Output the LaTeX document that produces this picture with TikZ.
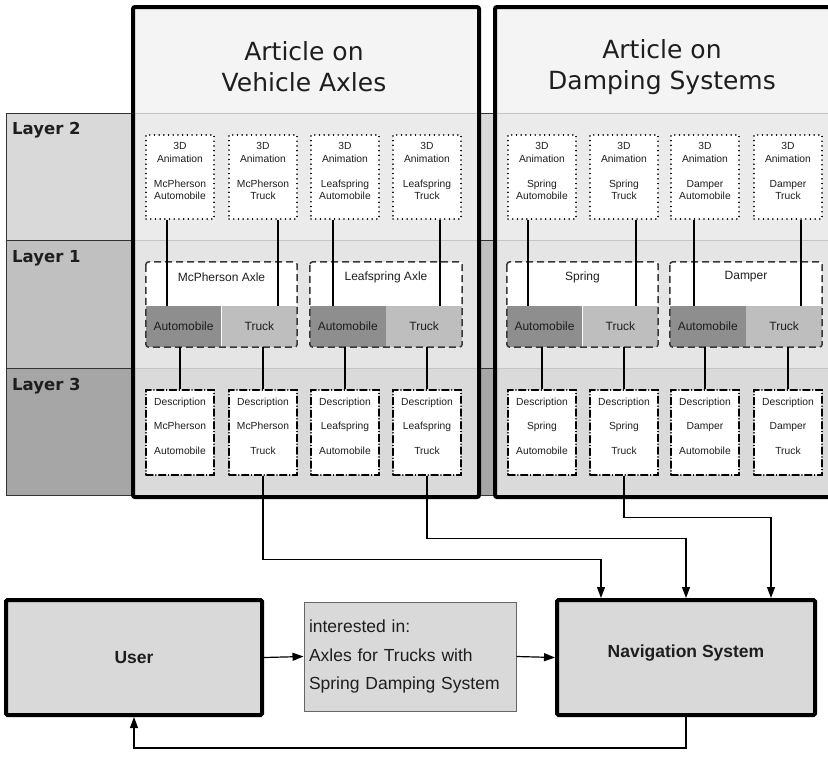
\documentclass[tikz,border=0pt]{standalone}
\usepackage{fontspec}
\setmainfont{Liberation Sans}
\newfontfamily\dvs{DejaVu Sans}
\usetikzlibrary{arrows.meta}
\definecolor{bandA}{HTML}{D9D9D9}
\definecolor{bandB}{HTML}{C0C0C0}
\definecolor{bandC}{HTML}{A6A6A6}
\definecolor{inA}{HTML}{EBEBEB}
\definecolor{inB}{HTML}{E5E5E5}
\definecolor{inC}{HTML}{DADADA}
\definecolor{hdr}{HTML}{F4F4F4}
\definecolor{sepc}{HTML}{C4C4C4}
\definecolor{autoc}{HTML}{8E8E8E}
\definecolor{truckc}{HTML}{BEBEBE}
\definecolor{boxc}{HTML}{D9D9D9}
\definecolor{txt}{HTML}{1E1E1E}
\begin{document}
\begin{tikzpicture}[x=1pt,y=-1pt,
  bandline/.style={draw=black!80,line width=0.9pt},
  sepline/.style={draw=sepc,line width=0.9pt},
  laylab/.style={anchor=base west,inner sep=0pt,font=\dvs\bfseries\fontsize{16.5}{20}\selectfont,text=txt},
  titletxt/.style={align=center,inner sep=0pt,font=\dvs\fontsize{25}{31}\selectfont,text=txt},
  artframe/.style={draw=black,line width=4pt,rounded corners=2pt},
  anim/.style={draw=black,fill=white,line width=1.5pt,dash pattern=on 0.1pt off 4.6pt,line cap=round,minimum width=68pt,minimum height=84pt,inner sep=0pt},
  desc/.style={draw=black,fill=white,line width=1.5pt,dash pattern=on 7pt off 2.8pt on 0.1pt off 2.8pt,line cap=round,minimum width=68pt,minimum height=85pt,inner sep=0pt},
  smalltxt/.style={align=center,inner sep=0pt,text=txt,font=\fontsize{10.3}{12.5}\selectfont},
  desctxt/.style={align=center,inner sep=0pt,text=txt,font=\fontsize{10.3}{24.5}\selectfont},
  grp/.style={fill=white,minimum height=85pt,inner sep=0pt},
  grpborder/.style={draw=black!78,line width=1.5pt,dash pattern=on 7pt off 4pt,rounded corners=3pt},
  cellA/.style={fill=autoc,minimum width=75.5pt,minimum height=41pt,inner sep=0pt,text=txt,font=\fontsize{12}{14}\selectfont},
  cellB/.style={fill=truckc,minimum width=75.5pt,minimum height=41pt,inner sep=0pt,text=txt,font=\fontsize{12}{14}\selectfont},
  midtxt/.style={inner sep=0pt,text=txt,font=\fontsize{12}{14}\selectfont},
  conn/.style={draw=black,line width=1.3pt},
  bigbox/.style={draw=black,fill=boxc,line width=4pt,rounded corners=1.5pt,inner sep=0pt,text=txt,font=\bfseries\fontsize{17.5}{21}\selectfont},
  intbox/.style={draw=black!60,fill=boxc,line width=1pt,inner sep=5pt,text=txt,align=left,font=\fontsize{17.5}{28.5}\selectfont},
  arr/.style={draw=black,line width=1.2pt,-{Triangle[length=11pt,width=8pt]}}
]
\useasboundingbox (0,0) rectangle (828,772);
\clip (0,0) rectangle (828,772);
\fill[white] (0,0) rectangle (828,772);

% full-width layer bands
\draw[bandline,fill=bandA] (6,113) rectangle (850,240);
\draw[bandline,fill=bandB] (6,240) rectangle (850,368);
\draw[bandline,fill=bandC] (6,368) rectangle (850,495);
\node[laylab] (lab2) at (12,134) {Layer 2};
\node[laylab] (lab1) at (12,262) {Layer 1};
\node[laylab] (lab3) at (12,390) {Layer 3};

% article panels
\foreach \L/\R in {131/477, 493/833} {
  \fill[hdr] (\L,5) rectangle (\R,113);
  \fill[inA] (\L,113) rectangle (\R,240);
  \fill[inB] (\L,240) rectangle (\R,368);
  \fill[inC] (\L,368) rectangle (\R,495);
  \draw[sepline] (\L,113) -- (\R,113);
  \draw[sepline] (\L,240) -- (\R,240);
  \draw[sepline] (\L,368) -- (\R,368);
}
\node[artframe,minimum width=346pt,minimum height=490pt,anchor=north west] (art1) at (131,5) {};
\node[artframe,minimum width=340pt,minimum height=490pt,anchor=north west] (art2) at (493,5) {};
\node[titletxt] (title1) at (304,67) {Article on\\Vehicle Axles};
\node[titletxt] (title2) at (662,67) {Article on\\Damping Systems};

% layer 2 and layer 3 boxes
\foreach \n/\x/\p/\q in {1/180/McPherson/Automobile, 2/263/McPherson/Truck, 3/345/Leafspring/Automobile, 4/427/Leafspring/Truck, 5/542/Spring/Automobile, 6/624/Spring/Truck, 7/705/Damper/Automobile, 8/788/Damper/Truck} {
  \node[anim] (an\n) at (\x,177) {};
  \node[smalltxt] (ant\n) at (\x,171) {3D\\Animation\\[12.5pt]\p\\\q};
  \node[desc] (de\n) at (\x,432.5) {};
  \node[desctxt] (det\n) at (\x,426) {Description\\\p\\\q};
}

% layer 1 groups
\foreach \n/\x/\w/\t in {1/221.5/151/McPherson Axle, 2/386/152/Leafspring Axle, 3/582.5/151/Spring, 4/746/152/Damper} {
  \node[grp,minimum width=\w pt] (g\n) at (\x,304.5) {};
  \node[cellA,minimum width=\w pt/2,anchor=north east] (ca\n) at (\x,306) {Automobile};
  \node[cellB,minimum width=\w pt/2,anchor=north west] (ct\n) at (\x,306) {Truck};
  \draw[grpborder] (g\n.north west) rectangle (g\n.south east);
  \node[midtxt] (gt\n) at (\x,277) {\t};
}

% layer 2 -> layer 1
\draw[conn] ([xshift=-13pt]an1.south) -- ([xshift=-13pt]an1.south |- ca1.north);
\draw[conn] ([xshift=15pt]an2.south) -- ([xshift=15pt]an2.south |- ct1.north);
\draw[conn] ([xshift=-12pt]an3.south) -- ([xshift=-12pt]an3.south |- ca2.north);
\draw[conn] ([xshift=13pt]an4.south) -- ([xshift=13pt]an4.south |- ct2.north);
\draw[conn] ([xshift=-14pt]an5.south) -- ([xshift=-14pt]an5.south |- ca3.north);
\draw[conn] ([xshift=12pt]an6.south) -- ([xshift=12pt]an6.south |- ct3.north);
\draw[conn] ([xshift=-11pt]an7.south) -- ([xshift=-11pt]an7.south |- ca4.north);
\draw[conn] ([xshift=13pt]an8.south) -- ([xshift=13pt]an8.south |- ct4.north);

% layer 1 -> layer 3
\draw[conn] (de1.north) -- (de1.north |- ca1.south);
\draw[conn] (de2.north) -- (de2.north |- ct1.south);
\draw[conn] (de3.north) -- (de3.north |- ca2.south);
\draw[conn] (de4.north) -- (de4.north |- ct2.south);
\draw[conn] (de5.north) -- (de5.north |- ca3.south);
\draw[conn] (de6.north) -- (de6.north |- ct3.south);
\draw[conn] (de7.north) -- (de7.north |- ca4.south);
\draw[conn] (de8.north) -- (de8.north |- ct4.south);

% bottom boxes
\node[bigbox,minimum width=256pt,minimum height=115pt] (user) at (134,657.5) {User};
\node[intbox,minimum height=109pt,text width=202pt] (int) at (410,656.5) {interested in:\\Axles for Trucks with\\Spring Damping System};
\node[bigbox,minimum width=258pt,minimum height=115pt] (nav) at (686,657.5) {};
\node[inner sep=0pt,text=txt,font=\bfseries\fontsize{17.5}{21}\selectfont] (navt) at (686,653) {Navigation System};

% arrows
\draw[arr] (de2.south) -- ++(0,84) -| ([xshift=-85pt]nav.north);
\draw[arr] (de4.south) -- ++(0,63) -| (nav.north);
\draw[arr] (de6.south) -- ++(0,42) -| ([xshift=85pt]nav.north);
\draw[arr] (user.east) -- (int.west);
\draw[arr] (int.east) -- (nav.west);
\draw[arr] (nav.south) -- ++(0,31) -| (user.south);
\end{tikzpicture}
\end{document}
